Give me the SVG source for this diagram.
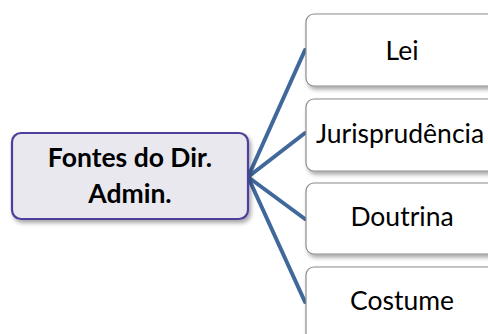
<svg xmlns="http://www.w3.org/2000/svg" width="488" height="334" viewBox="0 0 488 334">
<defs>
<filter id="sh" x="-20%" y="-20%" width="150%" height="150%">
<feDropShadow dx="2" dy="3" stdDeviation="2" flood-color="#000" flood-opacity="0.35"/>
</filter>
<style>
.leaf{fill:#ffffff;stroke:#8c8c8c;stroke-width:1.2;filter:url(#sh)}
.root{fill:#e8e8ee;stroke:#4b3f9b;stroke-width:2.2;filter:url(#sh)}
.lt{font-family:Lato,"Noto Sans",sans-serif;font-size:26.5px;fill:#000;text-anchor:middle}
.rt{font-family:Lato,"Noto Sans",sans-serif;font-size:26.5px;font-weight:bold;fill:#000;text-anchor:middle}
.con{stroke:#41689b;stroke-width:4;fill:none;stroke-linecap:round}
</style>
</defs>
<rect width="488" height="334" fill="#ffffff"/>
<g id="connectors">
<line class="con" x1="248" y1="177" x2="305" y2="50"/>
<line class="con" x1="248" y1="177" x2="305" y2="133"/>
<line class="con" x1="248" y1="177" x2="305" y2="219"/>
<line class="con" x1="248" y1="177" x2="305" y2="302"/>
</g>
<g id="root">
<rect class="root" x="12" y="133" width="236" height="86" rx="9"/>
<text class="rt" x="130" y="167">Fontes do Dir.</text>
<text class="rt" x="130" y="203">Admin.</text>
</g>
<g id="lei">
<rect class="leaf" x="306" y="14" width="194" height="72" rx="8"/>
<text class="lt" x="402" y="60">Lei</text>
</g>
<g id="jurisprudencia">
<rect class="leaf" x="306" y="99" width="194" height="72" rx="8"/>
<text class="lt" x="400" y="143">Jurisprudência</text>
</g>
<g id="doutrina">
<rect class="leaf" x="306" y="183" width="194" height="71" rx="8"/>
<text class="lt" x="402" y="226">Doutrina</text>
</g>
<g id="costume">
<rect class="leaf" x="306" y="267" width="194" height="80" rx="8"/>
<text class="lt" x="402" y="310">Costume</text>
</g>
</svg>
